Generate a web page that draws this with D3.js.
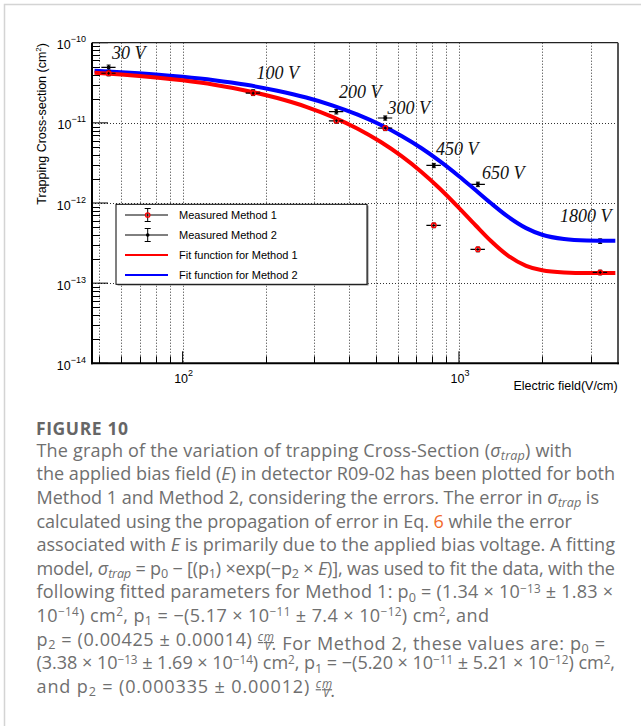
<!DOCTYPE html>
<html>
<head>
<script src="https://d3js.org/d3.v7.min.js"></script>
<style>
  body { margin: 0; background: #fff; overflow: hidden; }
  svg { display: block; }
  .tick-label { font-family: "Liberation Sans", Arial, sans-serif; font-size: 12.5px; fill: #000; }
  .ann { font-family: "Liberation Serif", "Times New Roman", serif; font-style: italic; font-size: 18px; fill: #111; }
  .leg { font-family: "Liberation Sans", Arial, sans-serif; font-size: 11px; fill: #000; }
  .cap { font-family: "Open Sans", "Noto Sans", sans-serif; fill: #6f6f6f; }
</style>
</head>
<body>
<svg id="chart" width="641" height="726"></svg>

<script>
// bias voltage labels and the electric field they give (V/cm)
const voltages = ["30 V", "100 V", "200 V", "300 V", "450 V", "650 V", "1800 V"];
const field = [54, 180, 360, 541, 811, 1171, 3243];
const fieldErr = [3.2, 10.8, 21.6, 32.4, 48.7, 70.3, 194.6];

// measured trapping cross-section (cm^2)
const method1 = [4.16e-11, 2.35e-11, 1.06e-11, 8.6e-12, 5.27e-13, 2.64e-13, 1.36e-13];
const method1Err = [3.0e-12, 1.6e-12, 7e-13, 6e-13, 3.5e-14, 1.8e-14, 9e-15];
const method2 = [4.91e-11, 2.42e-11, 1.38e-11, 1.15e-11, 2.94e-12, 1.71e-12, 3.35e-13];
const method2Err = [3.5e-12, 1.7e-12, 9e-13, 7e-13, 1.8e-13, 1.1e-13, 2.2e-14];

// fit curves
const fitE = [48, 60, 80, 100, 130, 170, 220, 280, 350, 430, 520, 620, 730, 850, 1000, 1150, 1300, 1500, 1750, 2000, 2400, 2900, 3680];
const fit1 = [4.23e-11, 4.02e-11, 3.69e-11, 3.39e-11, 2.99e-11, 2.52e-11, 2.04e-11, 1.586e-11, 1.181e-11, 8.45e-12, 5.80e-12, 3.84e-12, 2.46e-12, 1.53e-12, 8.71e-13, 5.24e-13, 3.40e-13, 2.22e-13, 1.644e-13, 1.445e-13, 1.36e-13, 1.34e-13, 1.34e-13];
const fit2 = [4.46e-11, 4.29e-11, 4.01e-11, 3.75e-11, 3.40e-11, 2.98e-11, 2.52e-11, 2.07e-11, 1.644e-11, 1.265e-11, 9.45e-12, 6.85e-12, 4.85e-12, 3.35e-12, 2.16e-12, 1.44e-12, 1.006e-12, 6.80e-13, 4.86e-13, 4.02e-13, 3.55e-13, 3.41e-13, 3.38e-13];

const xTicksMajor = [100, 1000];
const xTicksMinor = [50, 60, 70, 80, 90, 200, 300, 400, 500, 600, 700, 800, 900, 2000, 3000];
const yDecades = [-14, -13, -12, -11, -10];

const legendItems = ["Measured Method 1", "Measured Method 2", "Fit function for Method 1", "Fit function for Method 2"];

const captionLines = [
  "The graph of the variation of trapping Cross-Section (*σ*_{trap}) with",
  "the applied bias field (*E*) in detector R09-02 has been plotted for both",
  "Method 1 and Method 2, considering the errors. The error in *σ*_{trap} is",
  "calculated using the propagation of error in Eq. #6# while the error",
  "associated with *E* is primarily due to the applied bias voltage. A fitting",
  "model, *σ*_{trap} = p_(0) − [(p_(1)) ×exp(−p_(2) × *E*)], was used to fit the data, with the",
  "following fitted parameters for Method 1: p_(0) = (1.34 × 10^{−13} ± 1.83 ×",
  "10^{−14}) cm^{2}, p_(1) = −(5.17 × 10^{−11} ± 7.4 × 10^{−12}) cm^{2}, and",
  "p_(2) = (0.00425 ± 0.00014) {frac}. For Method 2, these values are: p_(0) =",
  "(3.38 × 10^{−13} ± 1.69 × 10^{−14}) cm^{2}, p_(1) = −(5.20 × 10^{−11} ± 5.21 × 10^{−12}) cm^{2},",
  "and p_(2) = (0.000335 ± 0.00012) {frac}."
];
const captionEnds = [572, 615, 599, 572, 615, 615, 613, 489, 605, 615, 335];

const svg = d3.select("#chart");

// card border
svg.append("path").attr("d", "M4.5,726V4.5H641").attr("fill", "none").attr("stroke", "#d4d4d4").attr("stroke-width", 1.5);

const pLeft = 92, pRight = 618, pTop = 42.7, pBottom = 363.3;
const x = d3.scaleLog().domain([47, 3763]).range([pLeft, pRight]);
const y = d3.scaleLog().domain([1e-14, 1e-10]).range([pBottom, pTop]);

svg.append("clipPath").attr("id", "clip").append("rect")
  .attr("x", pLeft).attr("y", pTop).attr("width", pRight - pLeft).attr("height", pBottom - pTop);

// grid
const grid = svg.append("g").attr("stroke", "#333").attr("stroke-width", 1).attr("stroke-dasharray", "1,2");
grid.selectAll("line.vx").data(xTicksMajor.concat(xTicksMinor)).enter().append("line")
  .attr("x1", d => Math.round(x(d)) + 0.5).attr("x2", d => Math.round(x(d)) + 0.5)
  .attr("y1", pTop).attr("y2", pBottom);
grid.selectAll("line.hy").data(yDecades.slice(1, -1)).enter().append("line")
  .attr("x1", pLeft).attr("x2", pRight)
  .attr("y1", d => Math.round(y(Math.pow(10, d))) + 0.5).attr("y2", d => Math.round(y(Math.pow(10, d))) + 0.5);

// ticks
const ticks = svg.append("g").attr("stroke", "#000").attr("stroke-width", 1);
yDecades.forEach((d, i) => {
  const base = Math.pow(10, d);
  ticks.append("line").attr("x1", pLeft).attr("x2", pLeft + 16).attr("y1", y(base)).attr("y2", y(base));
  if (i < yDecades.length - 1) {
    for (let m = 2; m <= 9; m++) {
      const yy = Math.round(y(m * base)) + 0.5;
      ticks.append("line").attr("x1", pLeft).attr("x2", pLeft + 8).attr("y1", yy).attr("y2", yy);
    }
  }
});
xTicksMajor.forEach(d => {
  ticks.append("line").attr("x1", x(d)).attr("x2", x(d)).attr("y1", pBottom).attr("y2", pBottom - 12);
});
xTicksMinor.forEach(d => {
  const xx = Math.round(x(d)) + 0.5;
  ticks.append("line").attr("x1", xx).attr("x2", xx).attr("y1", pBottom).attr("y2", pBottom - 7);
});

// frame
svg.append("line").attr("x1", pLeft).attr("x2", pRight).attr("y1", pTop).attr("y2", pTop).attr("stroke", "#222").attr("stroke-width", 1.2);
svg.append("line").attr("x1", pRight).attr("x2", pRight).attr("y1", pTop).attr("y2", pBottom + 1).attr("stroke", "#555").attr("stroke-width", 2);
svg.append("line").attr("x1", pLeft).attr("x2", pLeft).attr("y1", pTop).attr("y2", pBottom + 1).attr("stroke", "#000").attr("stroke-width", 2);
svg.append("line").attr("x1", pLeft - 1).attr("x2", pRight + 1).attr("y1", pBottom).attr("y2", pBottom).attr("stroke", "#000").attr("stroke-width", 2);

// tick labels
yDecades.forEach(d => {
  const t = svg.append("text").attr("class", "tick-label").attr("text-anchor", "end")
    .attr("x", 86).attr("y", y(Math.pow(10, d)) + 6.5);
  t.append("tspan").text("10");
  t.append("tspan").attr("font-size", "9px").attr("dy", -7).text("−" + Math.abs(d));
});
xTicksMajor.forEach(d => {
  const t = svg.append("text").attr("class", "tick-label").attr("text-anchor", "middle")
    .attr("x", x(d) + 1).attr("y", 382.5);
  t.append("tspan").text("10");
  t.append("tspan").attr("font-size", "9px").attr("dy", -7).text(String(Math.log10(d)));
});

// axis titles
svg.append("text").attr("class", "tick-label").attr("text-anchor", "end")
  .attr("x", 617.7).attr("y", 390).text("Electric field(V/cm)");
const yt = svg.append("text").attr("class", "tick-label").attr("text-anchor", "end")
  .attr("transform", "translate(46,43) rotate(-90)");
yt.append("tspan").text("Trapping Cross-section (cm");
yt.append("tspan").attr("font-size", "8px").attr("dy", -5).text("2");
yt.append("tspan").attr("dy", 5).text(")");

const plot = svg.append("g").attr("clip-path", "url(#clip)");

function drawPoints(g, vals, errs, kind) {
  field.forEach((e, i) => {
    const px = x(e), py = y(vals[i]);
    g.append("line").attr("x1", x(e - fieldErr[i])).attr("x2", x(e + fieldErr[i]))
      .attr("y1", py).attr("y2", py).attr("stroke", "#000").attr("stroke-width", 1.2);
    const y1 = y(vals[i] + errs[i]), y2 = y(vals[i] - errs[i]);
    g.append("line").attr("x1", px).attr("x2", px).attr("y1", y1).attr("y2", y2)
      .attr("stroke", "#000").attr("stroke-width", 1.2);
    [y1, y2].forEach(yy => g.append("line").attr("x1", px - 2).attr("x2", px + 2)
      .attr("y1", yy).attr("y2", yy).attr("stroke", "#000").attr("stroke-width", 1));
    if (kind === 1) {
      g.append("circle").attr("cx", px).attr("cy", py).attr("r", 2.3)
        .attr("fill", "none").attr("stroke", "#ff0000").attr("stroke-width", 1.4);
    } else {
      g.append("circle").attr("cx", px).attr("cy", py).attr("r", 2).attr("fill", "#000");
    }
  });
}

const line = d3.line().x(d => x(d[0])).y(d => y(d[1])).curve(d3.curveMonotoneX);

drawPoints(plot, method2, method2Err, 2);
plot.append("path").datum(fitE.map((e, i) => [e, fit2[i]])).attr("d", line)
  .attr("fill", "none").attr("stroke", "#0000ff").attr("stroke-width", 4);
plot.append("path").datum(fitE.map((e, i) => [e, fit1[i]])).attr("d", line)
  .attr("fill", "none").attr("stroke", "#ff0000").attr("stroke-width", 4);
drawPoints(plot, method1, method1Err, 1);

// voltage annotations
const annPos = [[112, 59], [256.5, 79], [339, 97.5], [387.5, 114], [436, 155], [482, 179], [560, 221.5]];
voltages.forEach((v, i) => {
  svg.append("text").attr("class", "ann").attr("x", annPos[i][0]).attr("y", annPos[i][1]).text(v);
});

// legend
const lg = svg.append("g");
lg.append("rect").attr("x", 117.5).attr("y", 205.5).attr("width", 251).attr("height", 80).attr("fill", "#888");
lg.append("rect").attr("x", 116).attr("y", 204.3).attr("width", 251).attr("height", 80)
  .attr("fill", "#fff").attr("stroke", "#000").attr("stroke-width", 1);
legendItems.forEach((name, i) => {
  const ly = 215 + i * 20;
  if (i < 2) {
    lg.append("line").attr("x1", 125).attr("x2", 168).attr("y1", ly).attr("y2", ly).attr("stroke", "#000").attr("stroke-width", 1);
    lg.append("line").attr("x1", 147.7).attr("x2", 147.7).attr("y1", ly - 6.5).attr("y2", ly + 6.5).attr("stroke", "#000").attr("stroke-width", 1);
    [ly - 6.5, ly + 6.5].forEach(yy => lg.append("line").attr("x1", 144.7).attr("x2", 150.7)
      .attr("y1", yy).attr("y2", yy).attr("stroke", "#000").attr("stroke-width", 1));
    if (i === 0) {
      lg.append("circle").attr("cx", 147.7).attr("cy", ly).attr("r", 2.2).attr("fill", "none").attr("stroke", "#ff0000").attr("stroke-width", 1.3);
    } else {
      lg.append("circle").attr("cx", 147.7).attr("cy", ly).attr("r", 1.8).attr("fill", "#000");
    }
  } else {
    lg.append("line").attr("x1", 125).attr("x2", 168).attr("y1", ly).attr("y2", ly)
      .attr("stroke", i === 2 ? "#ff0000" : "#0000ff").attr("stroke-width", 2);
  }
  lg.append("text").attr("class", "leg").attr("x", 179).attr("y", ly + 4).text(name);
});

// caption
svg.append("text").attr("x", 36).attr("y", 435)
  .attr("font-family", "'Open Sans', 'Noto Sans', sans-serif").attr("font-weight", 700)
  .attr("font-size", "17.5px").attr("fill", "#666").attr("textLength", 92).text("FIGURE 10");

const tokenRe = /(\*[^*]+\*|_\{[^}]+\}|_\([^)]+\)|\^\{[^}]+\}|#[^#]+#|\{frac\})/;
const capTexts = captionLines.map((ln, li) => {
  const t = svg.append("text").attr("class", "cap").attr("font-size", "15.5px")
    .attr("x", 36.5).attr("y", 456.7 + li * 23.6);
  let shift = 0;
  function seg(str, opts) {
    const o = opts || {};
    const target = o.shift || 0;
    const s = t.append("tspan").text(str);
    if (target !== shift) { s.attr("dy", target - shift); shift = target; }
    if (o.italic) s.attr("font-style", "italic");
    if (o.small) s.attr("font-size", o.small);
    if (o.fill) s.attr("fill", o.fill);
    if (o.dx) s.attr("dx", o.dx);
    if (o.deco) s.attr("text-decoration", o.deco);
    return s;
  }
  ln.split(tokenRe).filter(p => p.length).forEach(p => {
    if (p[0] === "*") seg(p.slice(1, -1), { italic: true });
    else if (p.startsWith("_{")) seg(p.slice(2, -1), { italic: true, small: "0.7em", shift: 3.5 });
    else if (p.startsWith("_(")) seg(p.slice(2, -1), { small: "0.7em", shift: 3.5 });
    else if (p.startsWith("^{")) seg(p.slice(2, -1), { small: "0.65em", shift: -5.5 });
    else if (p[0] === "#") seg(p.slice(1, -1), { fill: "#f26a2b" });
    else if (p === "{frac}") {
      seg("cm", { italic: true, small: "0.65em", shift: -4.5, deco: "underline" });
      seg("V", { italic: true, small: "0.65em", shift: 4, dx: -10 });
      seg("", { shift: 0, dx: 4 });
    }
    else seg(p, {});
  });
  return t;
});

// size the caption font so its natural widths match the reference line ends
const ratios = capTexts.map((t, i) => (captionEnds[i] - 36.5) / t.node().getComputedTextLength()).sort((a, b) => a - b);
const capSize = 15.5 * ratios[Math.floor(ratios.length / 2)];
capTexts.forEach((t, i) => {
  t.attr("font-size", capSize.toFixed(2) + "px")
    .attr("textLength", captionEnds[i] - 36.5).attr("lengthAdjust", "spacing");
});
</script>
</body>
</html>
